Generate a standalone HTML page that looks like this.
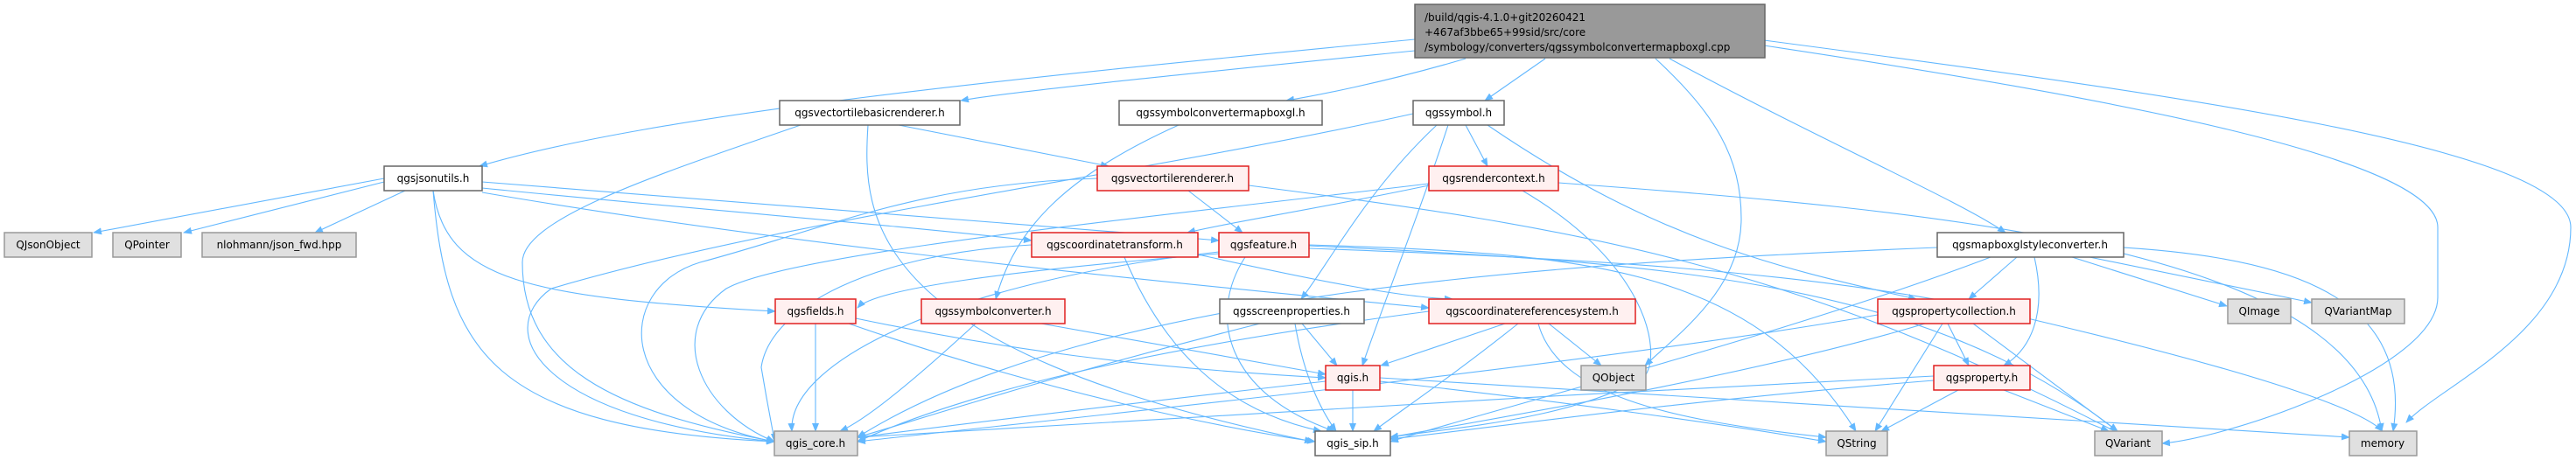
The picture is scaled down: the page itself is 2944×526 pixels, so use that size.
<!DOCTYPE html>
<html><head><meta charset="utf-8"><style>
html,body{margin:0;padding:0;background:#fff;}
svg{display:block}
text{font-family:"DejaVu Sans","Liberation Sans",sans-serif;font-size:12px;fill:#000}
.e{fill:none;stroke:#63b8ff;stroke-width:1.1}
.w{fill:#fff;stroke:#666;stroke-width:1.5}
.r{fill:#fff0f0;stroke:#e02020;stroke-width:1.5}
.g{fill:#e0e0e0;stroke:#999;stroke-width:1.5}
</style></head><body>
<svg width="2944" height="526" viewBox="0 0 2944 526" xmlns="http://www.w3.org/2000/svg">
<defs><marker id="a" viewBox="0 0 10 10" refX="9" refY="5" markerWidth="10" markerHeight="10" markerUnits="userSpaceOnUse" orient="auto"><path d="M0,1 L10,5 L0,9 z" fill="#63b8ff"/></marker></defs>
<g class="e" marker-end="url(#a)">
<!-- main -->
<path d="M1617,45 C1150,90 750,130 548,190"/>
<path d="M1617,58 C1400,80 1150,105 1098,115"/>
<path d="M1675,67 C1580,95 1500,110 1470,115"/>
<path d="M1766,67 L1697,115"/>
<path d="M1892,67 C1960,130 1990,180 1990,250 C1990,330 1920,380 1880,418"/>
<path d="M1908,67 C2080,160 2240,230 2292,266"/>
<path d="M2016,52 C2400,110 2786,180 2786,260 L2786,340 C2786,420 2550,500 2471,507"/>
<path d="M2016,46 C2500,110 2938,170 2938,260 C2938,380 2790,440 2750,483"/>
<!-- vtbasic -->
<path d="M1027,143 L1267,190"/>
<path d="M915,143 C750,200 597,250 597,300 C597,420 700,470 885,505"/>
<path d="M992,143 C985,250 990,400 1500,505"/>
<!-- symconvmb -->
<path d="M1347,143 C1220,200 1160,260 1138,342"/>
<!-- symbol -->
<path d="M1615,130 C1300,200 900,250 630,330 C560,380 620,480 885,505"/>
<path d="M1675,143 L1700,190"/>
<path d="M1642,143 C1560,220 1520,300 1487,342"/>
<path d="M1655,143 C1620,250 1580,350 1557,418"/>
<path d="M1700,143 C1900,280 2050,310 2190,342"/>
<!-- jsonutils -->
<path d="M439,204 L107,266"/>
<path d="M439,208 L210,266"/>
<path d="M463,218 L360,266"/>
<path d="M495,218 C510,400 560,490 885,505"/>
<path d="M495,218 C510,320 600,340 886,356"/>
<path d="M551,208 C800,230 1100,250 1393,275"/>
<path d="M551,215 C800,240 1000,255 1179,275"/>
<path d="M551,220 C900,280 1300,320 1633,352"/>
<!-- vtrenderer -->
<path d="M1254,204 C1050,210 950,260 800,300 C700,330 700,470 885,505"/>
<path d="M1358,218 L1420,266"/>
<path d="M1427,212 C1800,260 2050,300 2430,500"/>
<!-- rendercontext -->
<path d="M1633,212 C1500,240 1400,255 1357,266"/>
<path d="M1633,210 C1300,250 900,290 830,330 C760,380 800,470 885,505"/>
<path d="M1781,209 C2200,240 2690,280 2722,493"/>
<path d="M1740,218 C1880,300 1900,400 1880,430 C1800,480 1650,490 1589,500"/>
<!-- coordtransform -->
<path d="M1179,280 C1000,290 880,350 870,420 C880,480 885,500 885,505"/>
<path d="M1285,294 C1330,400 1400,470 1510,493"/>
<path d="M1369,291 C1500,320 1600,340 1660,342"/>
<!-- feature -->
<path d="M1496,280 C1800,290 2000,300 2121,493"/>
<path d="M1496,284 C1800,295 2080,310 2300,360 C2600,430 2700,470 2723,493"/>
<path d="M1496,281 C1900,300 2200,320 2420,493"/>
<path d="M1423,294 C1380,360 1400,450 1525,493"/>
<path d="M1393,290 C1150,310 1000,330 980,352"/>
<path d="M1393,288 C1100,320 900,410 905,493"/>
<!-- mapboxglstyle -->
<path d="M2214,283 C1800,300 1250,330 980,500"/>
<path d="M2275,294 C2050,380 1700,470 1589,505"/>
<path d="M2305,294 L2250,342"/>
<path d="M2325,294 C2340,360 2320,400 2290,418"/>
<path d="M2368,294 L2545,350"/>
<path d="M2388,294 L2642,346"/>
<path d="M2388,281 C2600,290 2760,330 2735,493"/>
<!-- fields -->
<path d="M932,370 L932,493"/>
<path d="M978,364 C1150,400 1300,420 1515,432"/>
<path d="M970,370 C1200,450 1400,490 1503,505"/>
<!-- symconv -->
<path d="M1115,370 C1050,430 990,480 960,493"/>
<path d="M1190,370 L1515,428"/>
<!-- screen -->
<path d="M1440,370 C1200,430 1050,480 980,500"/>
<path d="M1488,370 L1528,418"/>
<path d="M1480,370 C1490,430 1510,470 1527,493"/>
<!-- crs -->
<path d="M1720,370 L1578,418"/>
<path d="M1735,370 C1660,430 1600,470 1570,493"/>
<path d="M1770,370 L1830,418"/>
<path d="M1633,356 C1300,400 1100,450 980,505"/>
<path d="M1758,370 C1780,450 1900,480 2087,500"/>
<!-- propcoll -->
<path d="M2146,360 C1800,420 1200,480 980,505"/>
<path d="M2200,370 C2000,430 1700,480 1589,500"/>
<path d="M2226,370 L2250,418"/>
<path d="M2220,370 L2143,493"/>
<path d="M2255,370 L2420,493"/>
<!-- property -->
<path d="M2210,430 C1800,450 1300,480 980,500"/>
<path d="M2210,435 C1900,460 1700,490 1589,502"/>
<path d="M2238,446 L2150,493"/>
<path d="M2290,446 L2410,493"/>
<!-- qgis -->
<path d="M1515,436 C1300,460 1100,485 980,500"/>
<path d="M1546,446 L1546,493"/>
<path d="M1577,436 C1800,460 2000,490 2087,505"/>
<path d="M1577,432 C2000,460 2400,480 2685,500"/>
</g>
<!-- nodes -->
<rect class="g" x="1617" y="5" width="400" height="61" style="fill:#999;stroke:#666"/>
<text x="1628" y="24">/build/qgis-4.1.0+git20260421</text>
<text x="1628" y="41">+467af3bbe65+99sid/src/core</text>
<text x="1628" y="58">/symbology/converters/qgssymbolconvertermapboxgl.cpp</text>

<rect class="w" x="891" y="115" width="206" height="28"/><text x="994" y="133" text-anchor="middle">qgsvectortilebasicrenderer.h</text>
<rect class="w" x="1279" y="115" width="232" height="28"/><text x="1395" y="133" text-anchor="middle">qgssymbolconvertermapboxgl.h</text>
<rect class="w" x="1615" y="115" width="104" height="28"/><text x="1667" y="133" text-anchor="middle">qgssymbol.h</text>

<rect class="w" x="439" y="190" width="112" height="28"/><text x="495" y="208" text-anchor="middle">qgsjsonutils.h</text>
<rect class="r" x="1254" y="190" width="173" height="28"/><text x="1340" y="208" text-anchor="middle">qgsvectortilerenderer.h</text>
<rect class="r" x="1633" y="190" width="148" height="28"/><text x="1707" y="208" text-anchor="middle">qgsrendercontext.h</text>

<rect class="g" x="5" y="266" width="100" height="28"/><text x="55" y="284" text-anchor="middle">QJsonObject</text>
<rect class="g" x="129" y="266" width="78" height="28"/><text x="168" y="284" text-anchor="middle">QPointer</text>
<rect class="g" x="231" y="266" width="176" height="28"/><text x="319" y="284" text-anchor="middle">nlohmann/json_fwd.hpp</text>
<rect class="r" x="1179" y="266" width="190" height="28"/><text x="1274" y="284" text-anchor="middle">qgscoordinatetransform.h</text>
<rect class="r" x="1393" y="266" width="103" height="28"/><text x="1444" y="284" text-anchor="middle">qgsfeature.h</text>
<rect class="w" x="2214" y="266" width="213" height="28"/><text x="2320" y="284" text-anchor="middle">qgsmapboxglstyleconverter.h</text>

<rect class="r" x="886" y="342" width="92" height="28"/><text x="932" y="360" text-anchor="middle">qgsfields.h</text>
<rect class="r" x="1053" y="342" width="164" height="28"/><text x="1135" y="360" text-anchor="middle">qgssymbolconverter.h</text>
<rect class="w" x="1394" y="342" width="165" height="28"/><text x="1476" y="360" text-anchor="middle">qgsscreenproperties.h</text>
<rect class="r" x="1633" y="342" width="236" height="28"/><text x="1751" y="360" text-anchor="middle">qgscoordinatereferencesystem.h</text>
<rect class="r" x="2146" y="342" width="174" height="28"/><text x="2233" y="360" text-anchor="middle">qgspropertycollection.h</text>
<rect class="g" x="2546" y="342" width="72" height="28"/><text x="2582" y="360" text-anchor="middle">QImage</text>
<rect class="g" x="2642" y="342" width="106" height="28"/><text x="2695" y="360" text-anchor="middle">QVariantMap</text>

<rect class="r" x="1515" y="418" width="62" height="28"/><text x="1546" y="436" text-anchor="middle">qgis.h</text>
<rect class="g" x="1807" y="418" width="74" height="28"/><text x="1844" y="436" text-anchor="middle">QObject</text>
<rect class="r" x="2210" y="418" width="110" height="28"/><text x="2265" y="436" text-anchor="middle">qgsproperty.h</text>

<rect class="g" x="885" y="493" width="95" height="28"/><text x="932" y="511" text-anchor="middle">qgis_core.h</text>
<rect class="w" x="1503" y="493" width="86" height="28"/><text x="1546" y="511" text-anchor="middle">qgis_sip.h</text>
<rect class="g" x="2087" y="493" width="70" height="28"/><text x="2122" y="511" text-anchor="middle">QString</text>
<rect class="g" x="2394" y="493" width="77" height="28"/><text x="2432" y="511" text-anchor="middle">QVariant</text>
<rect class="g" x="2685" y="493" width="77" height="28"/><text x="2723" y="511" text-anchor="middle">memory</text>
</svg>
</body></html>
